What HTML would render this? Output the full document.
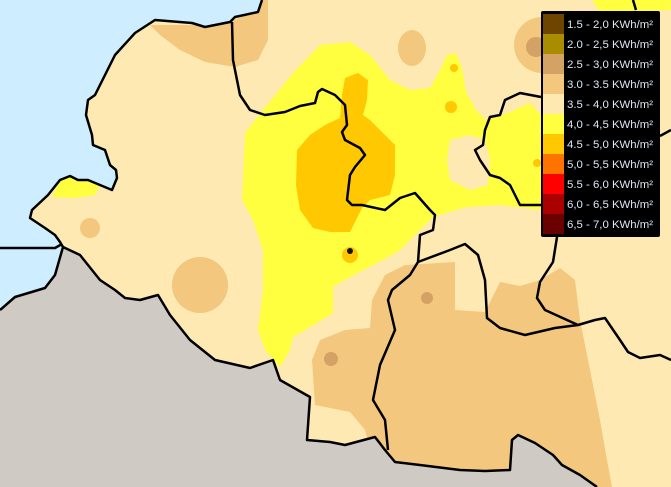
<!DOCTYPE html>
<html><head><meta charset="utf-8"><style>
html,body{margin:0;padding:0;width:671px;height:487px;overflow:hidden;background:#ffe9b2}
svg{display:block}
.lt{font-family:"Liberation Sans",sans-serif;font-size:11.4px;fill:#dce8f4}
</style></head><body>
<svg width="671" height="487" viewBox="0 0 671 487">
<rect x="0" y="0" width="671" height="487" fill="#ffe9b2"/>
<g fill="#f3c87e">
<path d="M150,25 L205,25 L230,22 L258,10 L262,0 L268,0 L268,40 L258,60 L235,67 L205,62 L180,50 L160,35 Z"/>
<circle cx="90" cy="228" r="10"/>
<circle cx="200" cy="285" r="28"/>
<ellipse cx="412" cy="48" rx="14" ry="18"/>
<circle cx="542" cy="45" r="28"/>
<path d="M312,360 L320,340 L345,330 L370,328 L372,300 L385,275 L405,265 L455,262 L455,310 L485,312 L500,282 L520,286 L540,280 L560,268 L575,280 L580,320 L592,380 L600,420 L607,460 L612,487 L380,487 L365,430 L350,412 L315,405 Z"/>
</g>
<g fill="#d4a264">
<circle cx="536" cy="47" r="10"/>
<circle cx="331" cy="359" r="7"/>
<circle cx="427" cy="298" r="6"/>
</g>
<g fill="#ffff40">
<path d="M242,200 L245,133 L263,110 L293,73 L320,45 L350,42 L370,55 L390,80 L410,90 L430,88 L440,70 L447,55 L456,53 L462,68 L466,92 L476,110 L486,120 L510,112 L530,103 L541,115 L541,210 L500,205 L467,207 L433,217 L400,250 L383,260 L350,277 L333,287 L333,313 L317,323 L293,337 L290,350 L280,367 L265,350 L258,330 L263,290 L263,250 L253,220 Z"/>
<path d="M52,197 L60,180 L75,176 L88,180 L100,185 L95,195 L75,198 Z"/>
<path d="M592,0 L671,0 L671,10 L600,12 Z"/>
</g>
<path d="M450,140 L470,135 L485,140 L490,160 L488,185 L470,190 L450,180 L447,160 Z" fill="#ffe9b2"/>
<g fill="#ffc800">
<path d="M297,150 L310,135 L325,125 L340,118 L342,95 L345,78 L358,73 L368,80 L367,100 L363,115 L370,120 L385,135 L395,145 L395,175 L390,195 L370,200 L362,208 L350,232 L330,232 L313,228 L300,210 L296,185 Z"/>
<circle cx="350" cy="255" r="8"/>
<circle cx="451" cy="107" r="6"/>
<circle cx="454" cy="68" r="4"/>
<circle cx="537" cy="163" r="4"/>
</g>
<circle cx="350" cy="251" r="3" fill="#111"/>
<path d="M0,0 L262,0 L258,12 L235,17 L230,22 L215,25 L205,27 L192,23 L155,20 L135,33 L115,55 L105,75 L95,95 L88,100 L86,115 L92,135 L93,145 L105,150 L110,165 L116,170 L117,178 L112,190 L100,185 L88,180 L78,180 L70,176 L60,180 L48,195 L32,210 L30,218 L45,228 L55,235 L60,242 L63,247 L55,275 L45,290 L15,297 L0,310 Z" fill="#ceeeff"/>
<path d="M262,0 L258,12 L235,17 L230,22 L215,25 L205,27 L192,23 L155,20 L135,33 L115,55 L105,75 L95,95 L88,100 L86,115 L92,135 L93,145 L105,150 L110,165 L116,170 L117,178 L112,190 L100,185 L88,180 L78,180 L70,176 L60,180 L48,195 L32,210 L30,218 L45,228 L55,235 L60,242 L63,247" fill="none" stroke="#000" stroke-width="2.5" stroke-linejoin="round"/>
<path d="M0,310 L15,297 L45,288 L55,275 L63,247 L80,255 L100,280 L115,290 L125,298 L140,300 L158,295 L170,315 L190,340 L215,360 L250,368 L273,360 L280,380 L310,397 L307,440 L330,442 L345,445 L375,437 L385,450 L395,462 L420,465 L460,470 L485,471 L510,470 L512,440 L518,435 L535,443 L553,455 L562,465 L580,475 L597,487 L0,487 Z" fill="#cfcac3"/>
<path d="M0,310 L15,297 L45,288 L55,275 L63,247 L80,255 L100,280 L115,290 L125,298 L140,300 L158,295 L170,315 L190,340 L215,360 L250,368 L273,360 L280,380 L310,397 L307,440 L330,442 L345,445 L375,437 L385,450 L395,462 L420,465 L460,470 L485,471 L510,470 L512,440 L518,435 L535,443 L553,455 L562,465 L580,475 L597,487" fill="none" stroke="#000" stroke-width="2.5" stroke-linejoin="round"/>
<g fill="none" stroke="#000" stroke-width="2.5" stroke-linejoin="round">
<path d="M0,248 L55,248 L62,244"/>
<path d="M232,22 L233,60 L240,95 L250,110 L265,115 L285,112 L300,106 L315,103 L318,92 L322,89 L335,95 L345,105 L347,125 L342,132 L345,140 L360,148 L365,155 L355,167 L350,175 L347,200 L352,205 L362,205 L385,210 L400,198 L415,193 L430,210 L435,215 L433,230 L420,235 L418,262 L410,275 L392,290 L388,300 L395,330 L380,365 L373,400 L385,420 L388,450"/>
<path d="M418,262 L450,250 L465,244 L478,255 L485,280 L487,318 L500,328 L525,335 L555,328 L578,325 L595,320 L605,318 L620,340 L628,352 L640,358 L660,355 L671,360"/>
<path d="M578,325 L545,310 L537,298 L540,282 L553,262 L557,237"/>
<path d="M541,97 L520,93 L505,100 L500,115 L490,117 L485,130 L483,145 L475,150 L480,160 L490,175 L500,178 L510,185 L515,195 L520,205 L541,205"/>
<path d="M633,0 L636,10"/>
<path d="M660,136 L671,130"/>
</g>
<g>
<rect x="541" y="11" width="119" height="226" rx="2" fill="#000"/>
<rect x="543" y="14" width="21" height="20" fill="#6e4500"/>
<rect x="543" y="34" width="21" height="20" fill="#aa8c00"/>
<rect x="543" y="54" width="21" height="20" fill="#d4a264"/>
<rect x="543" y="74" width="21" height="20" fill="#f3c87e"/>
<rect x="543" y="94" width="21" height="20" fill="#ffe9b2"/>
<rect x="543" y="114" width="21" height="20" fill="#ffff40"/>
<rect x="543" y="134" width="21" height="20" fill="#ffc800"/>
<rect x="543" y="154" width="21" height="20" fill="#ff7400"/>
<rect x="543" y="174" width="21" height="20" fill="#ff0000"/>
<rect x="543" y="194" width="21" height="20" fill="#aa0000"/>
<rect x="543" y="214" width="21" height="20" fill="#6a0000"/>
<text class="lt" x="567" y="28">1.5 - 2,0 KWh/m²</text>
<text class="lt" x="567" y="48">2.0 - 2,5 KWh/m²</text>
<text class="lt" x="567" y="68">2.5 - 3,0 KWh/m²</text>
<text class="lt" x="567" y="88">3.0 - 3.5 KWh/m²</text>
<text class="lt" x="567" y="108">3.5 - 4,0 KWh/m²</text>
<text class="lt" x="567" y="128">4,0 - 4,5 KWh/m²</text>
<text class="lt" x="567" y="148">4.5 - 5,0 KWh/m²</text>
<text class="lt" x="567" y="168">5,0 - 5,5 KWh/m²</text>
<text class="lt" x="567" y="188">5.5 - 6,0 KWh/m²</text>
<text class="lt" x="567" y="208">6,0 - 6,5 KWh/m²</text>
<text class="lt" x="567" y="228">6,5 - 7,0 KWh/m²</text>
</g>
</svg>
</body></html>
